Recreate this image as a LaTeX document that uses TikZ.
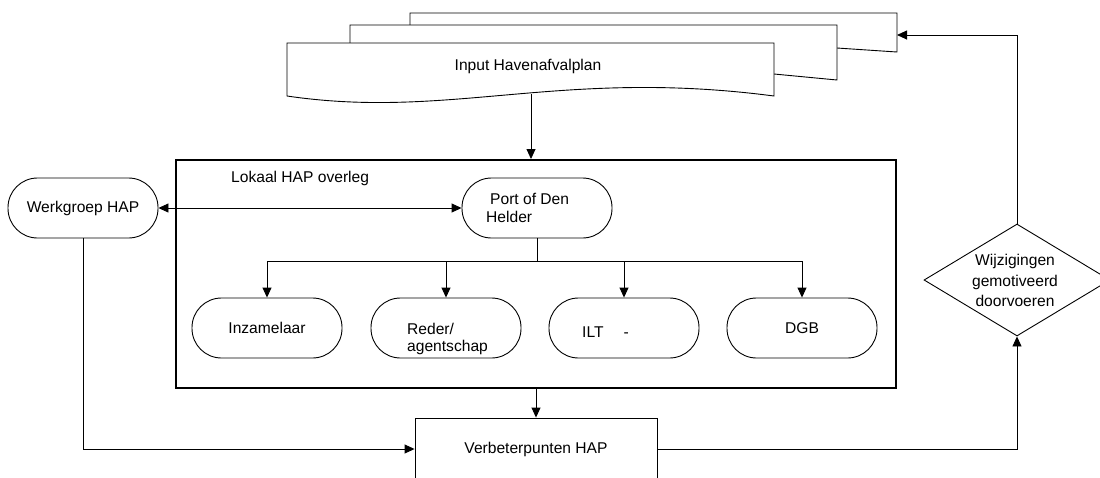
\documentclass[tikz,border=0pt]{standalone}
\usepackage{fontspec}
\setmainfont{Liberation Sans}
\usetikzlibrary{arrows.meta,shapes.geometric}
\begin{document}
\begin{tikzpicture}[x=1pt,y=-1pt,
  lw/.style={line width=0.9pt},
  arr/.style={lw,-{Triangle[length=10pt,width=9pt]}},
  darr/.style={lw,{Triangle[length=10pt,width=9pt]}-{Triangle[length=10pt,width=9pt]}},
  pill/.style={draw,lw,rounded corners=29.5pt,minimum width=150pt,minimum height=60pt,inner sep=0pt},
  txt/.style={font=\fontsize{15.6}{18}\selectfont,inner sep=0pt},
  sheet/.style={draw,lw,fill=white}]
\useasboundingbox (0,0) rectangle (1100,477);
\clip (0,0) rectangle (1100,477);
% stacked documents
\draw[sheet] (410,13) -- (897,13) -- (897,52) -- (837,48) -- (410,48) -- cycle;
\draw[sheet] (350,25) -- (837,25) -- (837,80) -- (774,74) -- (350,74) -- cycle;
\draw[sheet] (287,43) -- (774,43) -- (774,96) .. controls (560,68) and (450,120) .. (287,96) -- cycle;
\node[txt] (inp) at (528,66) {Input Havenafvalplan};
\coordinate (inpb) at (531,94);
\coordinate (backin) at (897,35);
% main box
\node[draw,line width=2pt,minimum width=720pt,minimum height=228pt,inner sep=0pt] (hap) at (536,274) {};
\node[txt,anchor=west] (lok) at (231,178) {Lokaal HAP overleg};
\node[pill,txt] (werk) at (83,208) {Werkgroep HAP};
\node[pill] (port) at (537,208) {};
\node[txt,anchor=base west] (portt1) at (490,204) {Port of Den};
\node[txt,anchor=base west] (portt2) at (486,222) {Helder};
\node[pill,txt] (inz) at (267,328) {Inzamelaar};
\node[pill] (red) at (446,328) {};
\node[txt,anchor=base west] (redt1) at (407,334) {Reder/};
\node[txt,anchor=base west] (redt2) at (407,351.5) {agentschap};
\node[pill] (ilt) at (624,328) {};
\node[txt,anchor=west] (iltt) at (582,332) {ILT\hspace{20pt}-};
\node[pill,txt] (dgb) at (802,328) {DGB};
% bottom box
\node[draw,lw,txt,minimum width=242pt,minimum height=62pt] (verb) at (536,449) {Verbeterpunten HAP};
% decision
\node[draw,lw,diamond,minimum width=186pt,minimum height=112pt,inner sep=0pt] (dia) at (1017,280) {};
\node[txt,anchor=base] (dia1) at (1015,265) {Wijzigingen};
\node[txt,anchor=base] (dia2) at (1015,286) {gemotiveerd};
\node[txt,anchor=base] (dia3) at (1015,306) {doorvoeren};
% connectors
\draw[arr] (inpb) -- (inpb |- hap.north);
\draw[darr] (werk.east) -- (port.west);
\coordinate (spl) at (537,261);
\draw[lw] (port.south) -- (spl);
\foreach \n in {inz,red,ilt,dgb} \draw[arr] (spl) -| (\n.north);
\draw[arr] (hap.south) -- (verb.north);
\draw[arr] (werk.south) |- (verb.west);
\draw[arr] (verb.east) -| (dia.south);
\draw[arr] (dia.north) |- (backin);
\end{tikzpicture}
\end{document}
